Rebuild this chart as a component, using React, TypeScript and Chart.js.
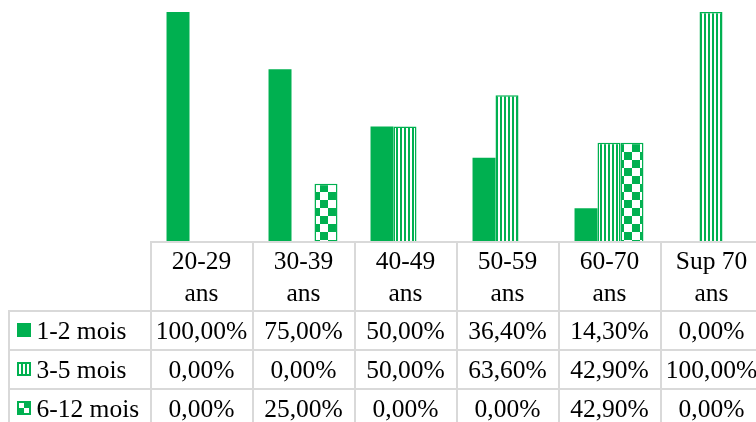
import React, { useEffect, useRef } from "react";
import { Chart, registerables } from "chart.js";

Chart.register(...registerables);

const categories: string[][] = [
  ["20-29", "ans"],
  ["30-39", "ans"],
  ["40-49", "ans"],
  ["50-59", "ans"],
  ["60-70", "ans"],
  ["Sup 70", "ans"],
];
const seriesNames = ["1-2 mois", "3-5 mois", "6-12 mois"];
const series1 = [100, 75, 50, 36.4, 14.3, 0];
const series2 = [0, 0, 50, 63.6, 42.9, 100];
const series3 = [0, 25, 0, 0, 42.9, 0];

const GREEN = "#00B050";
const GRID = "#d9d9d9";
const FONT = '25.5px "Liberation Serif", "Times New Roman", serif';

function fmt(v: number) {
  return v.toFixed(2).replace(".", ",") + "%";
}

function makeStripe(ctx: CanvasRenderingContext2D) {
  const c = document.createElement("canvas");
  c.width = 4;
  c.height = 4;
  const g = c.getContext("2d")!;
  g.fillStyle = "#ffffff";
  g.fillRect(0, 0, 4, 4);
  g.fillStyle = GREEN;
  g.fillRect(0, 0, 2, 4);
  return ctx.createPattern(c, "repeat")!;
}

function makeChecker(ctx: CanvasRenderingContext2D) {
  const c = document.createElement("canvas");
  c.width = 16;
  c.height = 16;
  const g = c.getContext("2d")!;
  g.fillStyle = "#ffffff";
  g.fillRect(0, 0, 16, 16);
  g.fillStyle = GREEN;
  g.fillRect(8, 0, 8, 8);
  g.fillRect(0, 8, 8, 8);
  return ctx.createPattern(c, "repeat")!;
}

const tablePlugin = {
  id: "dataTable",
  afterDraw(chart: any) {
    const { ctx, chartArea, scales } = chart;
    const x = scales.x;
    const n = categories.length;
    const step = x.getPixelForValue(1) - x.getPixelForValue(0);
    const left = x.getPixelForValue(0) - step / 2;
    const right = x.getPixelForValue(n - 1) + step / 2;
    const H = chart.height;
    const gridTop = chartArea.bottom + 1;
    const headerH = 69;
    const rowH = 39;
    const headerBottom = gridTop + headerH;
    const labelLeft = 9;

    ctx.save();
    ctx.strokeStyle = GRID;
    ctx.lineWidth = 2;
    ctx.beginPath();
    ctx.moveTo(left, gridTop);
    ctx.lineTo(right + 2, gridTop);
    for (let r = 0; r <= seriesNames.length + 1; r++) {
      const y = headerBottom + r * rowH;
      ctx.moveTo(labelLeft - 1, y);
      ctx.lineTo(right + 2, y);
    }
    for (let i = 0; i <= n; i++) {
      const xx = left + 1 + i * step;
      ctx.moveTo(xx, gridTop);
      ctx.lineTo(xx, H + 2);
    }
    ctx.moveTo(labelLeft, headerBottom);
    ctx.lineTo(labelLeft, H + 2);
    ctx.stroke();

    ctx.fillStyle = "#000";
    ctx.font = FONT;
    ctx.textAlign = "center";
    ctx.textBaseline = "alphabetic";
    categories.forEach((lines, i) => {
      const cx = x.getPixelForValue(i) + 0.5;
      lines.forEach((ln, k) => {
        ctx.fillText(ln, cx, gridTop + 27.3 + k * 31.4);
      });
    });

    const datasets = chart.data.datasets;
    datasets.forEach((ds: any, r: number) => {
      const rowTop = headerBottom + r * rowH;
      const base = rowTop + 28.3;
      ctx.fillStyle = "#000";
      ctx.textAlign = "center";
      (ds.data as number[]).forEach((v, i) => {
        ctx.fillText(fmt(v), x.getPixelForValue(i) + 0.5, base);
      });
      // legend key
      const kx = 17;
      const ky = rowTop + 12;
      ctx.save();
      ctx.translate(kx, ky);
      if (r === 2) {
        ctx.save();
        ctx.scale(14 / 16, 14 / 16);
        ctx.fillStyle = ds.backgroundColor;
        ctx.fillRect(0, 0, 16, 16);
        ctx.restore();
      } else {
        ctx.fillStyle = ds.backgroundColor;
        ctx.fillRect(0, 0, 14, 14);
      }
      if (r > 0) {
        ctx.strokeStyle = GREEN;
        ctx.lineWidth = 2;
        ctx.strokeRect(1, 1, 12, 12);
      }
      ctx.restore();
      ctx.fillStyle = "#000";
      ctx.textAlign = "left";
      ctx.fillText(ds.label, 36.5, base);
    });
    ctx.restore();
  },
};

export default function App() {
  const ref = useRef<HTMLCanvasElement | null>(null);
  useEffect(() => {
    const canvas = ref.current!;
    const ctx = canvas.getContext("2d")!;
    const stripe = makeStripe(ctx);
    const checker = makeChecker(ctx);
    const chart = new Chart(canvas, {
      type: "bar",
      data: {
        labels: categories.map((c) => c.join(" ")),
        datasets: [
          {
            label: seriesNames[0],
            data: series1,
            backgroundColor: GREEN,
            borderWidth: 0,
            categoryPercentage: 0.676,
            barPercentage: 1,
          },
          {
            label: seriesNames[1],
            data: series2,
            backgroundColor: stripe as any,
            borderColor: GREEN,
            borderWidth: 1.5,
            categoryPercentage: 0.676,
            barPercentage: 1,
          },
          {
            label: seriesNames[2],
            data: series3,
            backgroundColor: checker as any,
            borderColor: GREEN,
            borderWidth: 1.5,
            categoryPercentage: 0.676,
            barPercentage: 1,
          },
        ],
      },
      options: {
        responsive: false,
        animation: false,
        devicePixelRatio: 1,
        layout: { padding: { left: 150, right: 8, top: 12, bottom: 181 } },
        scales: {
          x: { display: false },
          y: { display: false, min: 0, max: 100 },
        },
        plugins: {
          legend: { display: false },
          tooltip: { enabled: false },
        },
      },
      plugins: [tablePlugin],
    });
    return () => chart.destroy();
  }, []);
  return (
    <div
      style={{
        position: "fixed",
        left: 0,
        top: 0,
        width: 756,
        height: 422,
        overflow: "hidden",
        background: "#fff",
      }}
    >
      <canvas ref={ref} width={770} height={422} style={{ display: "block", width: 770, height: 422 }} />
    </div>
  );
}
